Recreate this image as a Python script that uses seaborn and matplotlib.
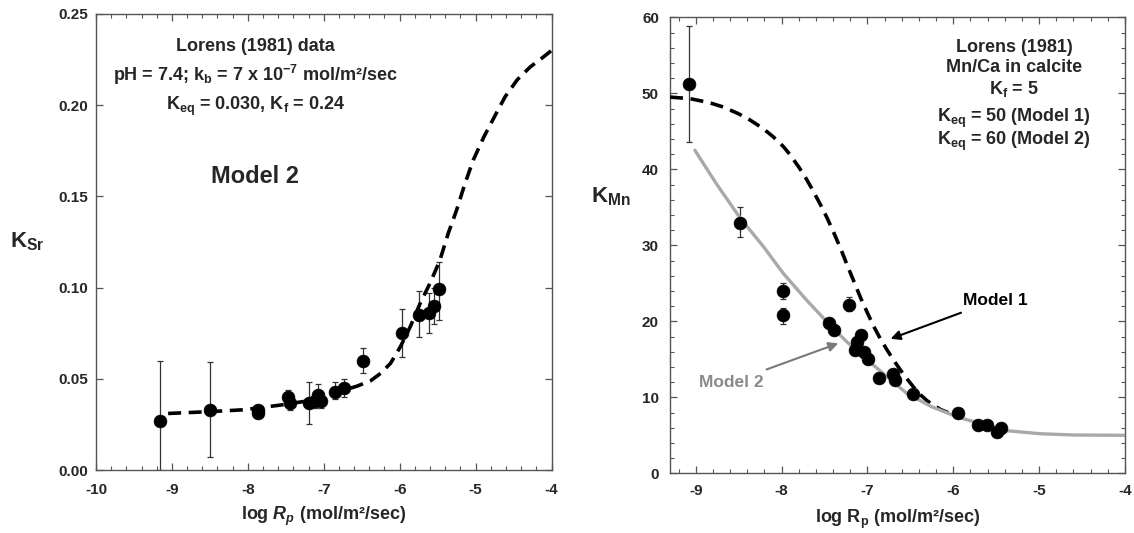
import matplotlib
matplotlib.use("Agg")
import matplotlib.pyplot as plt
from matplotlib.ticker import MultipleLocator, FormatStrFormatter
import seaborn as sns
import numpy as np

# ---------------- data ----------------
# Left panel: K_Sr vs log Rp
sr_x = [-9.16, -8.50, -7.86, -7.86, -7.47, -7.44, -7.20, -7.11, -7.07, -7.04,
        -6.85, -6.73, -6.48, -5.97, -5.74, -5.62, -5.55, -5.48]
sr_y = [0.027, 0.033, 0.033, 0.031, 0.040, 0.037, 0.037, 0.038, 0.041, 0.038,
        0.043, 0.045, 0.060, 0.075, 0.085, 0.086, 0.090, 0.099]
sr_err_lo = [0.027, 0.026, 0.002, 0.002, 0.004, 0.004, 0.012, 0.004, 0.006, 0.004,
             0.004, 0.005, 0.007, 0.013, 0.012, 0.011, 0.010, 0.017]
sr_err_hi = [0.033, 0.026, 0.002, 0.002, 0.004, 0.004, 0.011, 0.004, 0.006, 0.004,
             0.005, 0.005, 0.007, 0.013, 0.013, 0.011, 0.010, 0.015]

sr_model_x = [-9.05, -8.50, -8.06, -7.57, -7.13, -6.87, -6.56, -6.38, -6.25, -6.12,
              -5.99, -5.86, -5.73, -5.60, -5.47, -5.36, -5.25, -5.14, -5.03, -4.89,
              -4.74, -4.61, -4.45, -4.28, -4.12, -4.00]
sr_model_y = [0.031, 0.032, 0.033, 0.0356, 0.0384, 0.042, 0.0460, 0.0490, 0.0530, 0.0585,
              0.0676, 0.0786, 0.0914, 0.1024, 0.115, 0.1298, 0.1425, 0.157, 0.170, 0.1827,
              0.1946, 0.2047, 0.2140, 0.2210, 0.2260, 0.2300]

# Right panel: K_Mn vs log Rp
mn_x = [-9.08, -8.49, -7.98, -7.98, -7.45, -7.39, -7.21, -7.15, -7.12, -7.07, -7.04,
        -6.99, -6.86, -6.70, -6.68, -6.47, -5.94, -5.71, -5.61, -5.49, -5.44]
mn_y = [51.2, 33.0, 24.0, 20.8, 19.8, 18.9, 22.2, 16.2, 17.3, 18.2, 15.9,
        15.1, 12.5, 13.05, 12.3, 10.4, 7.9, 6.3, 6.4, 5.5, 5.9]
mn_err_lo = [7.6, 1.9, 1.1, 1.1, 0.6, 0.5, 0.9, 0.4, 0.4, 0.4, 0.4,
             0.4, 0.4, 0.4, 0.4, 0.4, 0.4, 0.4, 0.4, 0.4, 0.4]
mn_err_hi = [7.6, 2.0, 1.0, 0.9, 0.6, 0.5, 1.0, 0.4, 0.4, 0.4, 0.4,
             0.4, 0.4, 0.4, 0.4, 0.4, 0.4, 0.4, 0.4, 0.4, 0.4]

model1_x = [-9.30, -9.07, -8.85, -8.68, -8.50, -8.37, -8.22, -8.10, -7.98, -7.90,
            -7.80, -7.71, -7.63, -7.55, -7.47, -7.39, -7.31, -7.24, -7.16, -7.08,
            -7.00, -6.93, -6.85, -6.77, -6.69, -6.61, -6.53, -6.46, -6.38, -6.30,
            -6.22, -6.15, -6.00]
model1_y = [49.5, 49.3, 48.8, 48.2, 47.3, 46.5, 45.4, 44.3, 43.0, 41.9,
            40.3, 38.7, 37.1, 35.4, 33.6, 31.6, 29.5, 27.5, 25.3, 23.1,
            21.1, 19.4, 17.7, 16.2, 14.8, 13.5, 12.3, 11.3, 10.3, 9.5,
            8.9, 8.4, 7.7]

model2_x = [-9.01, -8.76, -8.49, -8.21, -7.98, -7.71, -7.47, -7.24, -7.00, -6.77,
            -6.54, -6.26, -5.95, -5.64, -5.37, -4.98, -4.59, -4.04, -4.00]
model2_y = [42.5, 38.1, 33.7, 29.8, 26.3, 22.8, 19.9, 17.3, 14.9, 12.7,
            10.5, 8.8, 7.4, 6.4, 5.6, 5.2, 5.04, 5.0, 5.0]

# ---------------- style ----------------
sns.set_theme(style="ticks")
plt.rcParams["font.family"] = ["Liberation Sans", "DejaVu Sans"]
plt.rcParams["font.weight"] = "bold"
plt.rcParams["mathtext.fontset"] = "custom"
plt.rcParams["mathtext.rm"] = "Liberation Sans:bold"
plt.rcParams["mathtext.it"] = "Liberation Sans:bold:italic"
plt.rcParams["mathtext.bf"] = "Liberation Sans:bold"
plt.rcParams["axes.unicode_minus"] = False

fig = plt.figure(figsize=(11.34, 5.33), dpi=100)
axL = fig.add_axes([96 / 1134, 1 - 470 / 533, 455.5 / 1134, 456 / 533])
axR = fig.add_axes([670 / 1134, 1 - 473.3 / 533, 455 / 1134, 456 / 533])

spine_col = "#555555"
for ax in (axL, axR):
    ax.set_facecolor("white")
    for s in ax.spines.values():
        s.set_color(spine_col)
        s.set_linewidth(1.0)
    ax.tick_params(which="both", direction="in", top=True, right=True,
                   color=spine_col, labelsize=11)
    ax.tick_params(which="major", length=5, width=0.9)
    ax.tick_params(which="minor", length=3, width=0.8)

dash = (0, (3.6, 2.1))

# ---------------- left panel ----------------
axL.errorbar(sr_x, sr_y, yerr=[sr_err_lo, sr_err_hi], fmt="none",
             ecolor="#333333", elinewidth=0.9, capsize=2, capthick=0.9, zorder=2)
sns.lineplot(x=sr_model_x, y=sr_model_y, ax=axL, color="black", lw=2.6,
             linestyle=dash, sort=False, zorder=3)
sns.scatterplot(x=sr_x, y=sr_y, ax=axL, s=85, color="black",
                edgecolor="black", linewidth=0.5, zorder=4)

axL.set_xlim(-10, -4)
axL.set_ylim(0, 0.25)
axL.xaxis.set_major_locator(MultipleLocator(1))
axL.xaxis.set_minor_locator(MultipleLocator(0.2))
axL.yaxis.set_major_locator(MultipleLocator(0.05))
axL.yaxis.set_major_formatter(FormatStrFormatter("%.2f"))
axL.xaxis.set_major_formatter(FormatStrFormatter("%d"))
axL.tick_params(axis="x", pad=9)
axL.tick_params(axis="y", pad=6)

axL.set_xlabel(r"log $\mathit{R}_{\mathit{p}}$ (mol/m²/sec)", fontsize=13, fontweight="bold")
axL.xaxis.set_label_coords(0.5, -0.101)
axL.xaxis.label.set_va("center")
axL.set_ylabel(r"K$_{\mathrm{Sr}}$", fontsize=16, fontweight="bold",
               rotation=0, ha="center", va="center")
axL.yaxis.set_label_coords(-0.151, 0.501)

tkw = dict(transform=axL.transAxes, ha="center", va="center",
           fontsize=13, fontweight="bold")
axL.text(0.35, 0.928, "Lorens (1981) data", **tkw)
axL.text(0.35, 0.866, r"pH = 7.4; k$_{\mathrm{b}}$ = 7 x 10$^{-7}$ mol/m²/sec", **tkw)
axL.text(0.35, 0.798, r"K$_{\mathrm{eq}}$ = 0.030, K$_{\mathrm{f}}$ = 0.24", **tkw)
axL.text(0.35, 0.643, "Model 2", transform=axL.transAxes, ha="center",
         va="center", fontsize=17, fontweight="bold")

# ---------------- right panel ----------------
axR.errorbar(mn_x, mn_y, yerr=[mn_err_lo, mn_err_hi], fmt="none",
             ecolor="#333333", elinewidth=0.9, capsize=2, capthick=0.9, zorder=2)
sns.lineplot(x=model1_x, y=model1_y, ax=axR, color="black", lw=2.6,
             linestyle=dash, sort=False, zorder=3)
sns.lineplot(x=model2_x, y=model2_y, ax=axR, color="#a9a9a9", lw=2.4,
             sort=False, zorder=3.5)
sns.scatterplot(x=mn_x, y=mn_y, ax=axR, s=85, color="black",
                edgecolor="black", linewidth=0.5, zorder=4)

axR.set_xlim(-9.3, -4)
axR.set_ylim(0, 60)
axR.xaxis.set_major_locator(MultipleLocator(1))
axR.xaxis.set_minor_locator(MultipleLocator(0.2))
axR.yaxis.set_major_locator(MultipleLocator(10))
axR.yaxis.set_minor_locator(MultipleLocator(2))
axR.xaxis.set_major_formatter(FormatStrFormatter("%d"))
axR.yaxis.set_major_formatter(FormatStrFormatter("%d"))
axR.tick_params(axis="x", pad=8)
axR.tick_params(axis="y", pad=8)

axR.set_xlabel(r"log R$_{\mathrm{p}}$ (mol/m²/sec)", fontsize=13, fontweight="bold")
axR.xaxis.set_label_coords(0.5, -0.102)
axR.xaxis.label.set_va("center")
axR.set_ylabel(r"K$_{\mathrm{Mn}}$", fontsize=16, fontweight="bold",
               rotation=0, ha="center", va="center")
axR.yaxis.set_label_coords(-0.129, 0.606)

rkw = dict(transform=axR.transAxes, ha="center", va="center",
           fontsize=13, fontweight="bold")
axR.text(0.757, 0.934, "Lorens (1981)", **rkw)
axR.text(0.757, 0.891, "Mn/Ca in calcite", **rkw)
axR.text(0.757, 0.843, r"K$_{\mathrm{f}}$ = 5", **rkw)
axR.text(0.757, 0.779, r"K$_{\mathrm{eq}}$ = 50 (Model 1)", **rkw)
axR.text(0.757, 0.727, r"K$_{\mathrm{eq}}$ = 60 (Model 2)", **rkw)

axR.annotate("Model 1", xy=(-6.73, 17.7), xytext=(-5.51, 22.8),
             ha="center", va="center", fontsize=12.5, fontweight="bold",
             color="black",
             arrowprops=dict(arrowstyle="-|>", color="black", lw=1.5,
                             mutation_scale=14, shrinkA=4, shrinkB=0))
axR.annotate("Model 2", xy=(-7.34, 17.1), xytext=(-8.58, 12.0),
             ha="center", va="center", fontsize=12.5, fontweight="bold",
             color="#8a8a8a",
             arrowprops=dict(arrowstyle="-|>", color="#7a7a7a", lw=1.5,
                             mutation_scale=14, shrinkA=4, shrinkB=0))

for ax in (axL, axR):
    for lab in ax.get_xticklabels() + ax.get_yticklabels():
        lab.set_fontweight("bold")

fig.savefig("out.png", dpi=100, facecolor="white")
